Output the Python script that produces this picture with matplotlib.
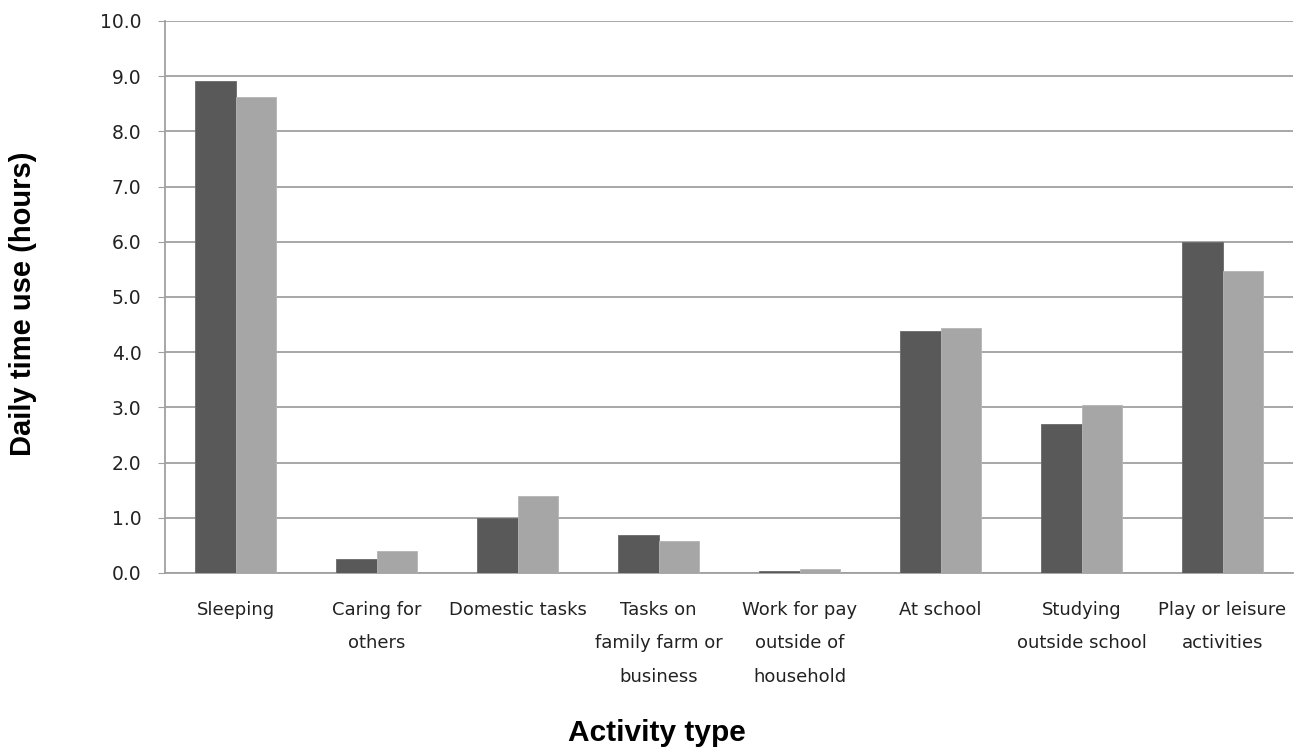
import numpy as np
import matplotlib
matplotlib.use("Agg")
from matplotlib import pyplot as plt

# data
activities = ["Sleeping", "Caring for\nothers", "Domestic tasks", "Tasks on\nfamily farm or\nbusiness",
              "Work for pay\noutside of\nhousehold", "At school", "Studying\noutside school",
              "Play or leisure\nactivities"]
series_a = [8.91, 0.25, 1.00, 0.68, 0.03, 4.39, 2.70, 6.00]
series_b = [8.63, 0.39, 1.39, 0.58, 0.07, 4.44, 3.04, 5.47]
yticks = np.arange(0, 10.5, 1.0)

fig = plt.figure(figsize=(12.99, 7.49), dpi=100)
ax = fig.add_axes([165/1299, 1-573/749, (1293-165)/1299, (573-21)/749])

x = np.arange(len(activities))
w = 0.285
ax.bar(x - w/2, series_a, w, color="#595959", edgecolor="#6a6a6a", linewidth=0.6, zorder=3)
ax.bar(x + w/2, series_b, w, color="#a6a6a6", edgecolor="#b5b5b5", linewidth=0.6, zorder=3)

ax.set_xlim(-0.5, len(activities) - 0.5)
ax.set_ylim(0, 10)
ax.set_yticks(yticks)
ax.set_yticklabels(["%.1f" % v for v in yticks], fontsize=13.5, color="#222222")
ax.set_xticks(x)
ax.set_xticklabels(activities, fontsize=13, linespacing=2.12, va="top", color="#222222")
ax.tick_params(axis="x", length=0, pad=20)
ax.tick_params(axis="y", length=5, color="#a0a0a0", pad=12)
ax.yaxis.grid(True, color="#a0a0a0", linewidth=1.3, zorder=0)
for s in ["top", "right"]:
    ax.spines[s].set_visible(False)
ax.spines["left"].set_color("#a0a0a0")
ax.spines["bottom"].set_color("#a0a0a0")
ax.spines["left"].set_linewidth(1.3)
ax.spines["bottom"].set_linewidth(1.3)

fig.text(23/1299, 1-304/749, "Daily time use (hours)", rotation=90, ha="center", va="center",
         fontname="Liberation Sans", fontweight="bold", fontsize=21)
fig.text(657/1299, 1-733/749, "Activity type", ha="center", va="center",
         fontname="Liberation Sans", fontweight="bold", fontsize=21.5)

fig.savefig("out.png", dpi=100)
